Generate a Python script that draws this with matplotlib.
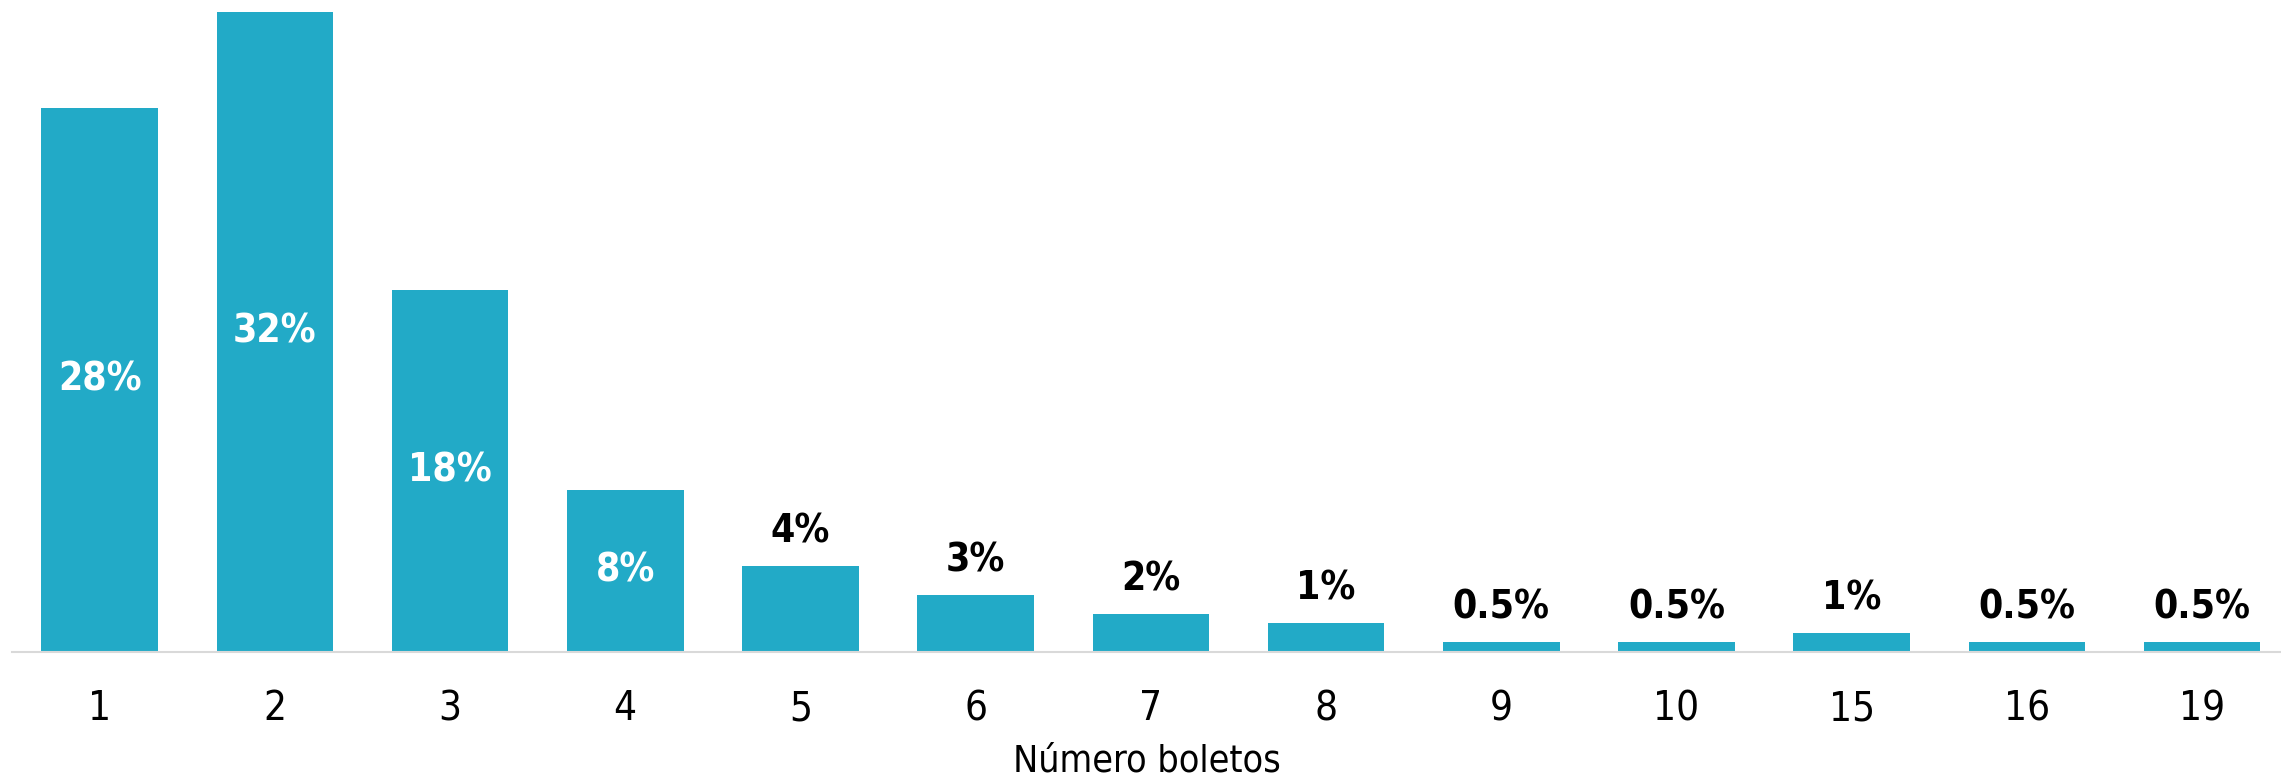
import matplotlib
matplotlib.use("Agg")
from matplotlib import pyplot as plt

# data
categories = ["1", "2", "3", "4", "5", "6", "7", "8", "9", "10", "15", "16", "19"]
shares = [27.2, 32.0, 18.1, 8.1, 4.3, 2.85, 1.9, 1.45, 0.5, 0.5, 0.95, 0.5, 0.5]
share_labels = ["28%", "32%", "18%", "8%", "4%", "3%", "2%", "1%",
                "0.5%", "0.5%", "1%", "0.5%", "0.5%"]
inside = [True, True, True, True] + [False] * 9

BAR_COLOR = "#22AAC7"
plt.rcParams["font.family"] = ["DejaVu Sans"]
plt.rcParams["font.stretch"] = "condensed"

fig = plt.figure(figsize=(22.81, 7.83), dpi=100)
ax = fig.add_axes([12 / 2281, 1 - 652 / 783, 1 - 12 / 2281, 652 / 783])

x = list(range(len(categories)))
bars = ax.bar(x, shares, width=0.665, color=BAR_COLOR)

for b, v, lab, ins in zip(bars, shares, share_labels, inside):
    cx = b.get_x() + b.get_width() / 2
    if ins:
        ax.text(cx, v / 2, lab, ha="center", va="center", color="white",
                fontsize=28, fontweight="bold", fontstretch="condensed")
    else:
        ax.annotate(lab, (cx, v), xytext=(0, 11), textcoords="offset points",
                    ha="center", va="bottom", color="black",
                    fontsize=28, fontweight="bold", fontstretch="condensed")

ax.set_xlim(-0.5, 12.45)
ax.set_ylim(0, 32.58)
ax.set_xticks(x)
ax.set_xticklabels(categories, fontsize=29, fontstretch="condensed")
ax.tick_params(axis="x", length=0, pad=27)
ax.set_yticks([])
ax.set_xlabel("Número boletos", fontsize=27, labelpad=10,
              fontstretch="condensed")

for s in ["top", "right", "left"]:
    ax.spines[s].set_visible(False)
ax.spines["bottom"].set_color("#D9D9D9")
ax.spines["bottom"].set_linewidth(1.5)

fig.savefig("out.png", dpi=100)
